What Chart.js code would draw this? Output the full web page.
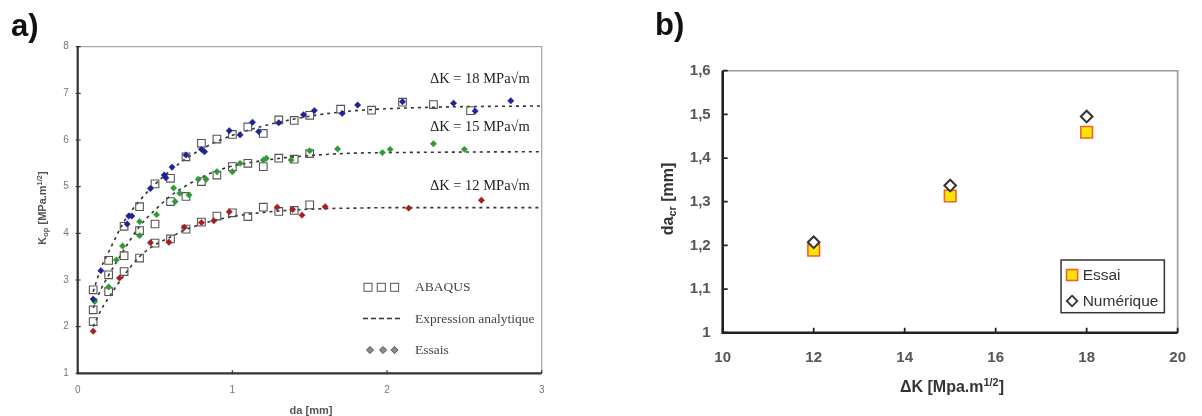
<!DOCTYPE html>
<html>
<head>
<meta charset="utf-8">
<script src="https://cdn.jsdelivr.net/npm/chart.js@4.4.0/dist/chart.umd.min.js"></script>
<style>
  html, body { margin: 0; padding: 0; background: #fff; }
  #page { position: relative; width: 1202px; height: 416px; overflow: hidden; font-family: "Liberation Sans", Arial, sans-serif; }
  .box { position: absolute; top: 0; height: 416px; }
  #boxA { left: 0; width: 600px; }
  #boxB { left: 600px; width: 602px; }
  .lbl { position: absolute; white-space: nowrap; line-height: 1; }
  .panel { font-weight: bold; font-size: 31px; color: #111; }
  .rot { transform: translate(-50%, -50%) rotate(-90deg); }
  .ctr { transform: translate(-50%, -50%); }
  .lbl sub, .lbl sup { font-size: 0.68em; line-height: 0; position: relative; vertical-align: baseline; }
  .lbl sub { top: 0.3em; }
  .lbl sup { top: -0.55em; }
</style>
</head>
<body>
<div id="page">
  <div class="box" id="boxA"><canvas id="chartA"></canvas></div>
  <div class="box" id="boxB"><canvas id="chartB"></canvas></div>

  <div class="lbl panel" style="left:11px; top:10px;">a)</div>
  <div class="lbl panel" style="left:655px; top:9px;">b)</div>

  <div class="lbl rot" style="left:42px; top:208px; font-weight:bold; font-size:11px; color:#555;">K<sub>op</sub> [MPa.m<sup>1/2</sup>]</div>
  <div class="lbl ctr" style="left:311px; top:410px; font-weight:bold; font-size:11px; color:#555;">da [mm]</div>

  <div class="lbl rot" style="left:668px; top:199px; font-weight:bold; font-size:16px; color:#333;">da<sub>cr</sub> [mm]</div>
  <div class="lbl ctr" style="left:952px; top:387px; font-weight:bold; font-size:16px; color:#333;">ΔK [Mpa.m<sup>1/2</sup>]</div>
</div>

<script>
// ---- panel a) : Kop vs da ----
// ABAQUS results (open squares)
const abaqusDa = [0.1, 0.2, 0.3, 0.4, 0.5, 0.6, 0.7, 0.8, 0.9, 1.0, 1.1, 1.2, 1.3, 1.4, 1.5];
const abaqus12 = [2.11, 2.75, 3.18, 3.47, 3.79, 3.88, 4.09, 4.24, 4.37, 4.44, 4.36, 4.56, 4.47, 4.49, 4.61];
const abaqus15 = [2.36, 3.11, 3.52, 4.06, 4.20, 4.68, 4.79, 5.11, 5.25, 5.43, 5.50, 5.43, 5.61, 5.59, 5.71];
const abaqus18 = [2.79, 3.42, 4.15, 4.57, 5.06, 5.18, 5.64, 5.93, 6.02, 6.12, 6.28, 6.14, 6.43, 6.42, 6.53];
const abaqusDa18Tail = [1.7, 1.9, 2.1, 2.3, 2.54];
const abaqus18Tail = [6.66, 6.64, 6.81, 6.76, 6.63];

// Essais (test points, filled diamonds)
const essaisDa12 = [0.10, 0.27, 0.47, 0.59, 0.69, 0.80, 0.88, 0.98, 1.29, 1.39, 1.45, 1.60, 2.14, 2.61];
const essais12 = [1.90, 3.04, 3.80, 3.81, 4.13, 4.23, 4.27, 4.46, 4.56, 4.51, 4.39, 4.57, 4.54, 4.71];
const essaisDa15 = [0.11, 0.20, 0.25, 0.29, 0.40, 0.40, 0.51, 0.62, 0.63, 0.66, 0.72, 0.78, 0.83, 0.90, 1.00, 1.05, 1.20, 1.22, 1.38, 1.50, 1.68, 1.97, 2.02, 2.30, 2.50];
const essais15 = [2.54, 2.85, 3.43, 3.73, 4.25, 3.95, 4.40, 4.97, 4.68, 4.86, 4.82, 5.16, 5.16, 5.32, 5.32, 5.50, 5.57, 5.61, 5.57, 5.77, 5.81, 5.73, 5.80, 5.92, 5.80];
const essaisDa18 = [0.10, 0.15, 0.32, 0.33, 0.35, 0.47, 0.56, 0.57, 0.61, 0.70, 0.80, 0.82, 0.98, 1.05, 1.13, 1.17, 1.30, 1.46, 1.53, 1.71, 1.81, 2.10, 2.43, 2.57, 2.80];
const essais18 = [2.59, 3.20, 4.20, 4.37, 4.37, 4.96, 5.25, 5.19, 5.42, 5.68, 5.80, 5.75, 6.20, 6.11, 6.38, 6.18, 6.37, 6.54, 6.63, 6.57, 6.75, 6.82, 6.79, 6.62, 6.84];

// Expression analytique (dashed curves)
const curveDa = [0.1, 0.15, 0.2, 0.3, 0.4, 0.5, 0.6, 0.7, 0.8, 0.9, 1.0, 1.2, 1.4, 1.6, 1.8, 2.0, 2.4, 3.0];
const curve12 = [2.00, 2.35, 2.62, 3.10, 3.50, 3.75, 3.92, 4.08, 4.20, 4.29, 4.36, 4.45, 4.50, 4.53, 4.54, 4.55, 4.55, 4.55];
const curve15 = [2.40, 2.80, 3.10, 3.65, 4.15, 4.50, 4.80, 5.02, 5.20, 5.34, 5.44, 5.56, 5.64, 5.69, 5.72, 5.73, 5.74, 5.75];
const curve18 = [2.75, 3.25, 3.60, 4.25, 4.70, 5.05, 5.35, 5.60, 5.80, 5.97, 6.10, 6.30, 6.45, 6.56, 6.63, 6.67, 6.71, 6.73];

const curveLabels = ['ΔK = 18 MPa√m', 'ΔK = 15 MPa√m', 'ΔK = 12 MPa√m'];

// ---- panel b) : da_cr vs ΔK ----
const deltaK = [12, 15, 18];
const essaiCr = [1.189, 1.313, 1.459];
const numeriqueCr = [1.207, 1.337, 1.495];

const SANS = '"Liberation Sans", Arial, sans-serif';
const SERIF = '"Liberation Serif", "Times New Roman", serif';

const pts = (xs, ys) => xs.map((x, i) => ({ x: x, y: ys[i] }));

// box frame: dark left/bottom axes, light top/right, inward ticks
function framePlugin(o) {
  return {
    id: 'frame',
    beforeDatasetsDraw(chart) {
      const { ctx, chartArea: a, scales: { x, y } } = chart;
      ctx.save();
      ctx.strokeStyle = o.light;
      ctx.lineWidth = o.lightW;
      ctx.beginPath();
      ctx.moveTo(a.left, a.top);
      ctx.lineTo(a.right, a.top);
      ctx.lineTo(a.right, a.bottom);
      ctx.stroke();

      ctx.strokeStyle = o.dark;
      ctx.lineWidth = o.tickW;
      ctx.beginPath();
      x.ticks.forEach(t => {
        const px = x.getPixelForValue(t.value);
        ctx.moveTo(px, a.bottom);
        ctx.lineTo(px, a.bottom - o.tick);
      });
      y.ticks.forEach(t => {
        const py = y.getPixelForValue(t.value);
        ctx.moveTo(a.left - o.tickOut, py);
        ctx.lineTo(a.left + o.tick, py);
      });
      ctx.stroke();

      ctx.lineWidth = o.darkW;
      ctx.beginPath();
      ctx.moveTo(a.left, a.top);
      ctx.lineTo(a.left, a.bottom);
      ctx.lineTo(a.right, a.bottom);
      ctx.stroke();
      ctx.restore();
    }
  };
}

function diamond(ctx, cx, cy, r) {
  ctx.beginPath();
  ctx.moveTo(cx, cy - r);
  ctx.lineTo(cx + r, cy);
  ctx.lineTo(cx, cy + r);
  ctx.lineTo(cx - r, cy);
  ctx.closePath();
}

// curve labels + the legend of panel a
const legendA = {
  id: 'legendA',
  afterDraw(chart) {
    const { ctx, scales: { x, y } } = chart;
    ctx.save();
    ctx.textAlign = 'left';
    ctx.textBaseline = 'middle';
    ctx.fillStyle = '#222';
    ctx.font = '14.5px ' + SERIF;
    const labelPos = [[2.277, 7.31], [2.277, 6.27], [2.277, 5.00]];
    curveLabels.forEach((t, i) => {
      ctx.fillText(t, x.getPixelForValue(labelPos[i][0]), y.getPixelForValue(labelPos[i][1]));
    });

    // legend box (no frame)
    ctx.strokeStyle = '#555';
    ctx.lineWidth = 1;
    [368, 381.3, 394.6].forEach(cx => ctx.strokeRect(cx - 4, 287.3 - 4, 8, 8));

    ctx.strokeStyle = '#333';
    ctx.lineWidth = 1.6;
    ctx.setLineDash([5, 3]);
    ctx.beginPath();
    ctx.moveTo(363, 318.5);
    ctx.lineTo(403, 318.5);
    ctx.stroke();
    ctx.setLineDash([]);

    ctx.fillStyle = '#8a8a8a';
    ctx.strokeStyle = '#555';
    ctx.lineWidth = 1;
    [370, 383, 394.5].forEach(cx => { diamond(ctx, cx, 350, 3.6); ctx.fill(); ctx.stroke(); });

    ctx.fillStyle = '#444';
    ctx.font = '13.5px ' + SERIF;
    ctx.fillText('ABAQUS', 415, 287.5);
    ctx.fillText('Expression analytique', 415, 319.5);
    ctx.fillText('Essais', 415, 350);
    ctx.restore();
  }
};

const essaisStyle = c => ({ pointStyle: 'rectRot', pointRadius: 3.2, pointBorderWidth: 0.5, backgroundColor: c, borderColor: c, showLine: false });
const abaqusStyle = { pointStyle: 'rect', pointRadius: 5.4, pointBorderWidth: 1.1, backgroundColor: 'rgba(0,0,0,0)', borderColor: '#555', showLine: false };
const curveStyle = { showLine: true, pointRadius: 0, borderColor: '#333', borderWidth: 1.6, borderDash: [3, 4], cubicInterpolationMode: 'monotone', fill: false };

const tickFontA = { family: SANS, size: 10 };

new Chart(document.getElementById('chartA'), {
  type: 'scatter',
  data: {
    datasets: [
      Object.assign({ label: 'Essais 18', data: pts(essaisDa18, essais18) }, essaisStyle('#1f2396')),
      Object.assign({ label: 'Essais 15', data: pts(essaisDa15, essais15) }, essaisStyle('#2f9a34')),
      Object.assign({ label: 'Essais 12', data: pts(essaisDa12, essais12) }, essaisStyle('#a3201e')),
      Object.assign({ label: 'ABAQUS 18', data: pts(abaqusDa, abaqus18).concat(pts(abaqusDa18Tail, abaqus18Tail)) }, abaqusStyle),
      Object.assign({ label: 'ABAQUS 15', data: pts(abaqusDa, abaqus15) }, abaqusStyle),
      Object.assign({ label: 'ABAQUS 12', data: pts(abaqusDa, abaqus12) }, abaqusStyle),
      Object.assign({ label: 'Analytique 18', data: pts(curveDa, curve18) }, curveStyle),
      Object.assign({ label: 'Analytique 15', data: pts(curveDa, curve15) }, curveStyle),
      Object.assign({ label: 'Analytique 12', data: pts(curveDa, curve12) }, curveStyle)
    ]
  },
  options: {
    responsive: true,
    maintainAspectRatio: false,
    animation: false,
    layout: { padding: { left: 0, top: 46.7, right: 58.3, bottom: 0 } },
    plugins: { legend: { display: false }, tooltip: { enabled: false } },
    scales: {
      x: {
        type: 'linear', min: 0, max: 3,
        afterFit: s => { s.height = 42.7; },
        grid: { display: false, drawTicks: false },
        border: { display: false },
        ticks: { stepSize: 1, padding: 11, color: '#777', font: tickFontA }
      },
      y: {
        type: 'linear', min: 1, max: 8,
        afterFit: s => { s.width = 77.7; },
        grid: { display: false, drawTicks: false },
        border: { display: false },
        ticks: { stepSize: 1, padding: 9, color: '#777', font: tickFontA }
      }
    }
  },
  plugins: [framePlugin({ light: '#a8a8a8', lightW: 1.3, dark: '#333', darkW: 2.2, tick: 3, tickOut: 2, tickW: 1.2 }), legendA]
});

// legend box of panel b
const legendB = {
  id: 'legendB',
  afterDraw(chart) {
    const { ctx, chartArea: a } = chart;
    const left = a.right - 116.6, top = a.bottom - 72.7;
    ctx.save();
    ctx.strokeStyle = '#333';
    ctx.lineWidth = 1.5;
    ctx.strokeRect(left, top, 103.3, 52.7);

    ctx.fillStyle = '#ffe600';
    ctx.strokeStyle = '#f0602a';
    ctx.lineWidth = 1.6;
    ctx.fillRect(left + 5.5, top + 9.5, 11, 11);
    ctx.strokeRect(left + 5.5, top + 9.5, 11, 11);

    ctx.fillStyle = '#fff';
    ctx.strokeStyle = '#333';
    ctx.lineWidth = 1.8;
    diamond(ctx, left + 11, top + 41, 5.3);
    ctx.fill();
    ctx.stroke();

    ctx.fillStyle = '#333';
    ctx.font = '15.5px ' + SANS;
    ctx.textAlign = 'left';
    ctx.textBaseline = 'middle';
    ctx.fillText('Essai', left + 21.6, top + 15.5);
    ctx.fillText('Numérique', left + 21.6, top + 41.5);
    ctx.restore();
  }
};

const tickFontB = { family: SANS, size: 15, weight: 'bold' };

new Chart(document.getElementById('chartB'), {
  type: 'scatter',
  data: {
    datasets: [
      {
        label: 'Numérique', data: pts(deltaK, numeriqueCr),
        pointStyle: 'rectRot', pointRadius: 5.8, pointBorderWidth: 2,
        backgroundColor: '#fff', borderColor: '#333'
      },
      {
        label: 'Essai', data: pts(deltaK, essaiCr),
        pointStyle: 'rect', pointRadius: 8.2, pointBorderWidth: 1.6,
        backgroundColor: '#ffe600', borderColor: '#f0602a'
      }
    ]
  },
  options: {
    responsive: true,
    maintainAspectRatio: false,
    animation: false,
    layout: { padding: { left: 0, top: 70.7, right: 18.7, bottom: 0 } },
    plugins: { legend: { display: false }, tooltip: { enabled: false } },
    scales: {
      x: {
        type: 'linear', min: 10, max: 20,
        afterFit: s => { s.height = 83.3; },
        grid: { display: false, drawTicks: false },
        border: { display: false },
        ticks: { stepSize: 2, padding: 16, color: '#555', font: tickFontB }
      },
      y: {
        type: 'linear', min: 1, max: 1.6,
        afterFit: s => { s.width = 122.7; },
        grid: { display: false, drawTicks: false },
        border: { display: false },
        ticks: {
          stepSize: 0.1, padding: 12, color: '#555', font: tickFontB,
          callback: v => (Math.abs(v - 1) < 1e-9 ? '1' : v.toFixed(1).replace('.', ','))
        }
      }
    }
  },
  plugins: [framePlugin({ light: '#9a9a9a', lightW: 1.6, dark: '#222', darkW: 2.6, tick: 5, tickOut: 0, tickW: 1.8 }), legendB]
});
</script>
</body>
</html>
